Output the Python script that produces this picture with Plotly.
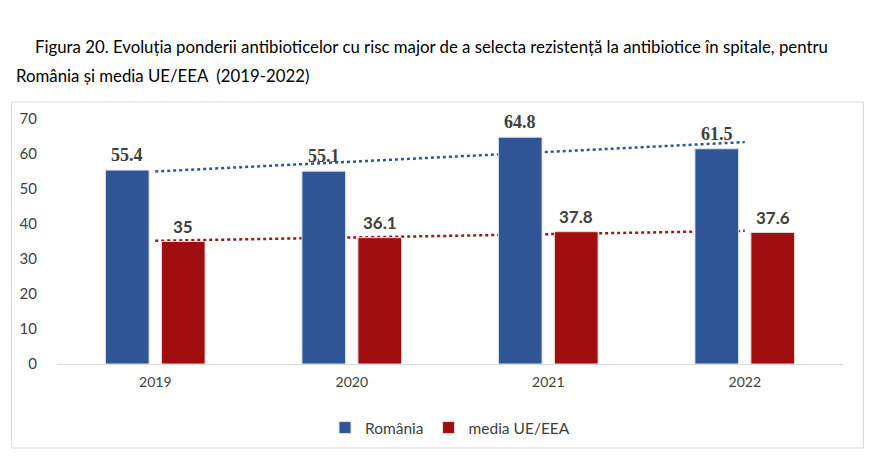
import numpy as np
import plotly.graph_objects as go

years = ["2019", "2020", "2021", "2022"]
romania = [55.4, 55.1, 64.8, 61.5]
eu_eea = [35, 36.1, 37.8, 37.6]
y_ticks = [0, 10, 20, 30, 40, 50, 60, 70]
title_line1 = "Figura 20. Evoluția ponderii antibioticelor cu risc major de a selecta rezistență la antibiotice în spitale, pentru"
title_line2 = "România și media UE/EEA  (2019-2022)"

BLUE = "#2F5597"
RED = "#A10E10"
BLUE_TREND = "#2F5597"
RED_TREND = "#8E1C1C"

BARGAP = 0.43
BARGROUPGAP = 0.22

xpos = np.arange(len(years))
yrange = [0, 70]
xrange = [-0.5, len(years) - 0.5]

fig = go.Figure()

# linear trend lines (drawn on the base axes, below the bars)
for vals, col in [(romania, BLUE_TREND), (eu_eea, RED_TREND)]:
    a, b = np.polyfit(xpos, vals, 1)
    fig.add_trace(go.Scatter(
        x=xpos, y=a * xpos + b, mode="lines",
        line=dict(color=col, width=2.5, dash="dot"),
        showlegend=False, hoverinfo="skip", xaxis="x", yaxis="y",
    ))

fig.add_trace(go.Bar(
    x=xpos, y=romania, name="România", marker=dict(color=BLUE, line=dict(color="#DCE3EE", width=1)),
    xaxis="x2", yaxis="y2",
))
fig.add_trace(go.Bar(
    x=xpos, y=eu_eea, name="media UE/EEA", marker=dict(color=RED, line=dict(color="#E8DADA", width=1)),
    xaxis="x2", yaxis="y2",
))

slot = (1 - BARGAP) / 2
offsets = [-slot / 2, slot / 2]
label_fonts = [
    dict(family="Liberation Serif", size=18, color="#404040", weight="bold"),
    dict(family="Lato", size=17, color="#404040", weight="bold"),
]
for vals, off, fnt in zip([romania, eu_eea], offsets, label_fonts):
    for xi, v in zip(xpos, vals):
        fig.add_annotation(x=xi + off, y=v, xref="x2", yref="y2", text=f"{v:g}",
                           showarrow=False, yanchor="middle", yshift=15, font=fnt)

W, H = 882, 473
L, R, T, B = 56.5, 38.5, 119, 109
pw, ph = W - L - R, H - T - B


def px(xp):
    return (xp - L) / pw


def py(yp):
    return (H - B - yp) / ph


fig.add_shape(type="rect", xref="paper", yref="paper",
              x0=px(11), x1=px(864), y0=py(448), y1=py(102),
              line=dict(color="#D9D9D9", width=1), layer="below")

fig.add_annotation(xref="paper", yref="paper", x=px(32), y=py(46),
                   xanchor="left", yanchor="middle", showarrow=False,
                   text=title_line1, font=dict(family="Lato", size=16.8, color="#000000"))
fig.add_annotation(xref="paper", yref="paper", x=px(13), y=py(75),
                   xanchor="left", yanchor="middle", showarrow=False,
                   text=title_line2, font=dict(family="Lato", size=16.8, color="#000000"))

fig.update_layout(
    width=W, height=H,
    margin=dict(l=L, r=R, t=T, b=B),
    paper_bgcolor="white", plot_bgcolor="white",
    barmode="group", bargap=BARGAP, bargroupgap=BARGROUPGAP,
    font=dict(family="Lato", size=14, color="#404040"),
    legend=dict(orientation="h", x=0.5, xanchor="center", y=py(428), yanchor="middle",
                font=dict(family="Lato", size=15.5, color="#404040"),
                itemwidth=30, traceorder="normal"),
    xaxis=dict(tickmode="array", tickvals=xpos, ticktext=years, range=xrange,
               showgrid=False, showline=True, linecolor="#D9D9D9", linewidth=1,
               ticks="", tickfont=dict(size=14, color="#404040"), ticklabelstandoff=5,
               zeroline=False),
    yaxis=dict(tickmode="array", tickvals=y_ticks, range=yrange, showgrid=False,
               showline=False, zeroline=False, ticks="",
               tickfont=dict(size=15, color="#404040"), ticklabelstandoff=19),
    xaxis2=dict(overlaying="x", range=xrange, visible=False),
    yaxis2=dict(overlaying="y", range=yrange, visible=False),
)

fig.write_html("out.html")
